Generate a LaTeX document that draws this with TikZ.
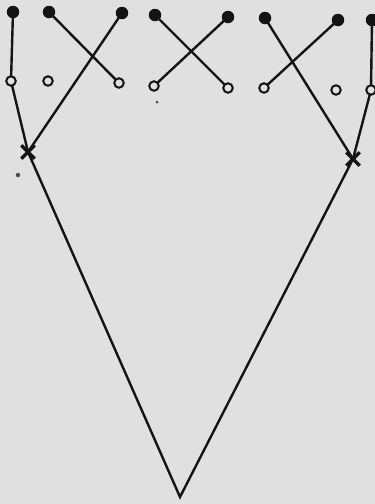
\documentclass[tikz,border=0pt]{standalone}
\begin{document}
\begin{tikzpicture}[x=1pt,y=-1pt,
  edge/.style={line width=2.4pt, draw=black!92},
  full/.style={circle, fill=black!92, inner sep=0pt, minimum size=12.5pt},
  hollow/.style={circle, draw=black!92, line width=2pt, fill=black!12, inner sep=0pt, minimum size=9.5pt},
  cross/.style={inner sep=0pt, minimum size=13pt},
  crossmark/.style={line width=3.2pt, draw=black!92},
  speck/.style={circle, fill=black!70, inner sep=0pt, minimum size=#1}]
\fill[black!12] (0,0) rectangle (375,504);
\useasboundingbox (0,0) rectangle (375,504);
% filled dots
\node[full] (f1) at (13,12) {};
\node[full] (f2) at (49,12) {};
\node[full] (f3) at (122,13) {};
\node[full] (f4) at (155,15) {};
\node[full] (f5) at (228,17) {};
\node[full] (f6) at (265,18) {};
\node[full] (f7) at (338,20) {};
\node[full] (f8) at (372,20) {};
% crosses and bottom
\node[cross] (xl) at (28,152) {};
\node[cross] (xr) at (353,159) {};
\coordinate (v) at (180,497);
% edges
\draw[edge] (f1.center) -- (11,81) -- (xl.center);
\draw[edge] (f2.center) -- (119,83);
\draw[edge] (f3.center) -- (xl.center);
\draw[edge] (f4.center) -- (228,88);
\draw[edge] (f5.center) -- (154,86);
\draw[edge] (f6.center) -- (xr.center);
\draw[edge] (f7.center) -- (264,88);
\draw[edge] (f8.center) -- (371,90) -- (xr.center);
\draw[edge, line join=miter] (xl.center) -- (v) -- (xr.center);
% open circles
\node[hollow] (o1) at (11,81) {};
\node[hollow] (o2) at (48,81) {};
\node[hollow] (o3) at (119,83) {};
\node[hollow] (o4) at (154,86) {};
\node[hollow] (o5) at (228,88) {};
\node[hollow] (o6) at (264,88) {};
\node[hollow] (o7) at (336,90) {};
\node[hollow] (o8) at (371,90) {};
% cross marks
\draw[crossmark] (xl.north west) -- (xl.south east) (xl.north east) -- (xl.south west);
\draw[crossmark] (xr.north west) -- (xr.south east) (xr.north east) -- (xr.south west);
% specks
\node[speck=3pt] (s1) at (157,102) {};
\node[speck=4.5pt] (s2) at (18,175) {};
\end{tikzpicture}
\end{document}
